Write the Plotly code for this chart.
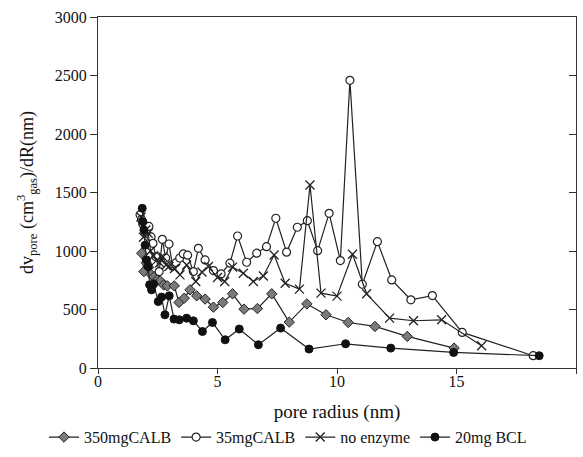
import plotly.graph_objects as go

# 350mgCALB (grey diamonds)
x_350 = [1.83, 1.92, 2.02, 2.12, 2.22, 2.35, 2.47, 2.60, 2.75, 2.90, 3.19, 3.39, 3.61, 3.85, 4.13,
         4.48, 4.83, 5.22, 5.63, 6.11, 6.67, 7.27, 8.00, 8.74, 9.54, 10.47, 11.59, 12.94, 14.90]
y_350 = [981, 824, 900, 860, 800, 780, 753, 745, 710, 702, 702, 560, 597, 668, 617,
         589, 520, 560, 634, 503, 508, 634, 392, 548, 455, 389, 355, 270, 170]

# 35mgCALB (open circles)
x_35 = [1.76, 1.82, 1.87, 1.95, 2.05, 2.13, 2.22, 2.30, 2.42, 2.56, 2.69, 2.83, 2.97, 3.12, 3.27,
        3.42, 3.57, 3.75, 3.99, 4.20, 4.48, 4.83, 5.15, 5.52, 5.84, 6.22, 6.64, 7.05, 7.44, 7.89,
        8.34, 8.76, 9.19, 9.67, 10.14, 10.54, 11.06, 11.69, 12.29, 13.09, 13.99, 15.24, 18.21]
y_35 = [1310, 1270, 1230, 1190, 1150, 1210, 1120, 1066, 950, 824, 1100, 940, 1060, 870, 900,
        940, 975, 964, 824, 1023, 924, 833, 804, 896, 1128, 904, 981, 1037, 1280, 990,
        1203, 1259, 1003, 1322, 918, 2459, 716, 1080, 753, 583, 619, 304, 105]

# no enzyme (x markers)
x_no = [1.80, 1.90, 2.00, 2.10, 2.20, 2.32, 2.45, 2.58, 2.72, 2.85, 2.97, 3.20, 3.43, 3.71, 4.09,
        4.35, 4.62, 5.00, 5.30, 5.63, 6.08, 6.50, 6.92, 7.37, 7.83, 8.43, 8.87, 9.33, 10.00, 10.65,
        11.24, 12.20, 13.20, 14.38, 16.05]
y_no = [1290, 1117, 1180, 1151, 1000, 960, 920, 900, 950, 880, 867, 850, 796, 881, 739,
        820, 867, 773, 739, 862, 810, 739, 787, 966, 725, 674, 1564, 640, 614, 972,
        634, 426, 404, 412, 190]

# 20mg BCL (filled circles)
x_bcl = [1.85, 1.88, 1.92, 1.97, 2.03, 2.10, 2.16, 2.24, 2.33, 2.52, 2.66, 2.80, 2.98, 3.18,
         3.40, 3.71, 3.99, 4.37, 4.79, 5.32, 5.91, 6.71, 7.64, 8.83, 10.36, 12.25, 14.88, 18.46]
y_bcl = [1365, 1250, 1180, 1050, 924, 867, 711, 668, 719, 568, 606, 455, 617, 418,
         412, 426, 403, 312, 389, 241, 333, 199, 341, 162, 207, 170, 133, 105]

x_ticks = [0, 5, 10, 15, 20]
y_ticks = [0, 500, 1000, 1500, 2000, 2500, 3000]

FONT = "Liberation Serif"

fig = go.Figure()
line = dict(color="#222222", width=1.2)
fig.add_trace(go.Scatter(x=x_350, y=y_350, name="350mgCALB", mode="lines+markers", line=line,
                         marker=dict(symbol="diamond", size=8, color="#7a7a7a",
                                     line=dict(color="#222222", width=1))))
fig.add_trace(go.Scatter(x=x_35, y=y_35, name="35mgCALB", mode="lines+markers", line=line,
                         marker=dict(symbol="circle", size=8, color="white",
                                     line=dict(color="#222222", width=1.2))))
fig.add_trace(go.Scatter(x=x_no, y=y_no, name="no enzyme", mode="lines+markers", line=line,
                         marker=dict(symbol="x-thin-open", size=9, color="#222222",
                                     line=dict(color="#222222", width=1.3))))
fig.add_trace(go.Scatter(x=x_bcl, y=y_bcl, name="20mg BCL", mode="lines+markers", line=line,
                         marker=dict(symbol="circle", size=8, color="#111111",
                                     line=dict(color="#111111", width=1))))
# invisible trace to carry right-side inward ticks
fig.add_trace(go.Scatter(x=[None], y=[None], yaxis="y2", showlegend=False, hoverinfo="skip"))

fig.update_layout(
    width=583, height=457,
    margin=dict(l=98, r=7, t=17, b=89, autoexpand=False),
    paper_bgcolor="white", plot_bgcolor="white",
    font=dict(family=FONT, size=16, color="#111111"),
    xaxis=dict(range=[0, 20], tickvals=x_ticks, ticks="outside", ticklen=5, tickwidth=1,
               tickcolor="#333333", showline=True, linecolor="#333333", linewidth=1.2,
               mirror=True, showgrid=False, zeroline=False, automargin=False,
               ticklabelstandoff=-6,
               tickfont=dict(family=FONT, size=16),
               title=dict(text="pore radius (nm)", font=dict(family=FONT, size=19))),
    yaxis=dict(range=[0, 3000], tickvals=y_ticks, ticks="outside", ticklen=7, tickwidth=1,
               tickcolor="#333333", showline=True, linecolor="#333333", linewidth=1.2,
               mirror=True, showgrid=False, zeroline=False, automargin=True,
               tickfont=dict(family=FONT, size=16),
               title=dict(text="dv<sub>pore</sub> (cm<sup>3</sup><sub>gas</sub>)/dR(nm)",
                          font=dict(family=FONT, size=18), standoff=16)),
    yaxis2=dict(range=[0, 3000], tickvals=y_ticks, ticks="inside", ticklen=7, tickwidth=1,
                tickcolor="#333333", overlaying="y", side="right", showticklabels=False,
                showgrid=False, zeroline=False, showline=False, automargin=False),
    legend=dict(orientation="h", x=-0.113, xanchor="left", y=-0.197, yanchor="middle",
                font=dict(family=FONT, size=16), itemwidth=30, tracegroupgap=0,
                bgcolor="rgba(0,0,0,0)"),
)

fig.write_html("out.html", config={"displayModeBar": False},
               post_script="document.body.style.margin='0';document.body.style.padding='0';")
